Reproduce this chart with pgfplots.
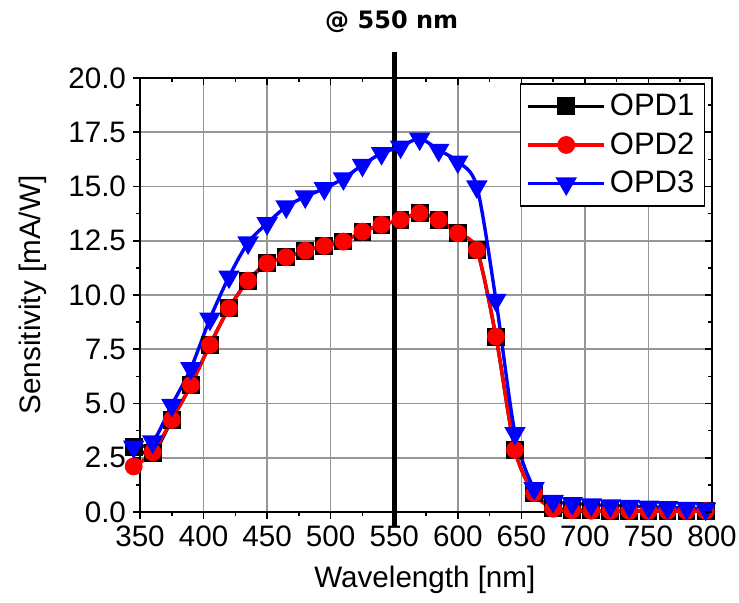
\documentclass[border=0pt]{standalone}
\usepackage{fontspec}
\setmainfont{Liberation Sans}
\newfontfamily\titlefont{DejaVu Sans}
\usepackage{pgfplots}
\usepackage{pgfplotstable}
\pgfplotsset{compat=1.18}

\pgfplotstableread{
x y1 y2 y3
345 3.00 2.10 3.00
360 2.70 2.75 3.24
375 4.24 4.24 4.93
390 5.85 5.85 6.62
405 7.70 7.70 8.90
420 9.39 9.39 10.84
435 10.66 10.66 12.41
450 11.46 11.46 13.30
465 11.74 11.74 14.07
480 12.04 12.04 14.53
495 12.26 12.26 14.91
510 12.46 12.46 15.37
525 12.92 12.92 15.99
540 13.23 13.23 16.53
555 13.46 13.46 16.83
570 13.77 13.77 17.20
585 13.46 13.46 16.68
600 12.84 12.84 16.14
615 12.07 12.07 14.99
630 8.08 8.08 9.77
645 2.86 2.86 3.63
660 0.87 0.87 1.09
675 0.20 0.15 0.50
690 0.10 0.08 0.40
705 0.08 0.06 0.34
720 0.06 0.05 0.30
735 0.05 0.05 0.27
750 0.05 0.05 0.24
765 0.05 0.05 0.21
780 0.05 0.05 0.18
795 0.05 0.05 0.15
}\datatable

\definecolor{gridgray}{RGB}{150,150,150}

\begin{document}
\begin{tikzpicture}
\begin{axis}[
  scale only axis, width=286pt, height=217pt,
  xmin=350, xmax=800, ymin=0, ymax=20,
  xtick={350,400,...,800}, ytick={0,2.5,...,20},
  minor x tick num=1, minor y tick num=1,
  tick align=outside, xtick pos=left, ytick pos=left,
  major tick length=3.5pt, minor tick length=2pt,
  tick style={black, line width=0.8pt},
  grid=major, grid style={gridgray, line width=0.8pt},
  axis line style={line width=1pt},
  /pgf/number format/assume math mode=true,
  yticklabel style={/pgf/number format/.cd, fixed, fixed zerofill, precision=1},
  xticklabel style={/pgf/number format/.cd, fixed, precision=0, set thousands separator={}},
  ticklabel style={font=\fontsize{14.8}{17}\selectfont},
  xlabel={Wavelength [nm]}, ylabel={Sensitivity [mA/W]},
  label style={font=\fontsize{14.8}{17}\selectfont},
  xlabel style={at={(axis description cs:0.498,-0.157)}, anchor=center},
  ylabel style={at={(axis description cs:-0.187,0.5)}, anchor=center},
  legend style={at={(0.988,0.988)}, anchor=north east, draw=black, line width=0.8pt,
    font=\fontsize{15.5}{18}\selectfont, row sep=3pt, inner xsep=3pt, inner ysep=3pt},
  legend cell align=left,
  legend image code/.code={\draw[mark repeat=2, mark phase=2, #1, line width=1.7pt] plot coordinates {(0pt,0pt) (19pt,0pt) (38pt,0pt)};},
  clip=false,
]
\addplot[black, line width=2.5pt, forget plot] coordinates {(550,-0.7) (550,21.2)};
\addplot[black, line width=1.7pt, smooth, mark=square*, mark size=3.6pt, mark options={solid}] table[x=x, y=y1] {\datatable};
\addlegendentry{OPD1}
\addplot[red, line width=1.7pt, smooth, mark=*, mark size=3.6pt, mark options={solid}] table[x=x, y=y2] {\datatable};
\addlegendentry{OPD2}
\addplot[blue, line width=1.7pt, smooth, mark=triangle*, mark size=4.5pt, mark options={solid, rotate=180}] table[x=x, y=y3] {\datatable};
\addlegendentry{OPD3}
\node[font=\titlefont\bfseries\fontsize{12}{14}\selectfont] at (axis description cs:0.44,1.130) {@ 550 nm};
\coordinate (bbsw) at (axis description cs:-0.2448,-0.2097);
\coordinate (bbne) at (axis description cs:1.0472,1.1797);
\end{axis}
\begin{axis}[
  scale only axis, width=286pt, height=217pt,
  xmin=350, xmax=800, ymin=0, ymax=20,
  xtick={350,400,...,800}, ytick={0,2.5,...,20},
  minor x tick num=1, minor y tick num=1,
  tick align=inside, xtick pos=right, ytick pos=right,
  major tick length=3.5pt, minor tick length=2pt,
  tick style={black, line width=0.8pt},
  xticklabels={}, yticklabels={},
  axis line style={draw=none},
]
\end{axis}
\pgfresetboundingbox
\path (bbsw) rectangle (bbne);
\end{tikzpicture}
\end{document}
